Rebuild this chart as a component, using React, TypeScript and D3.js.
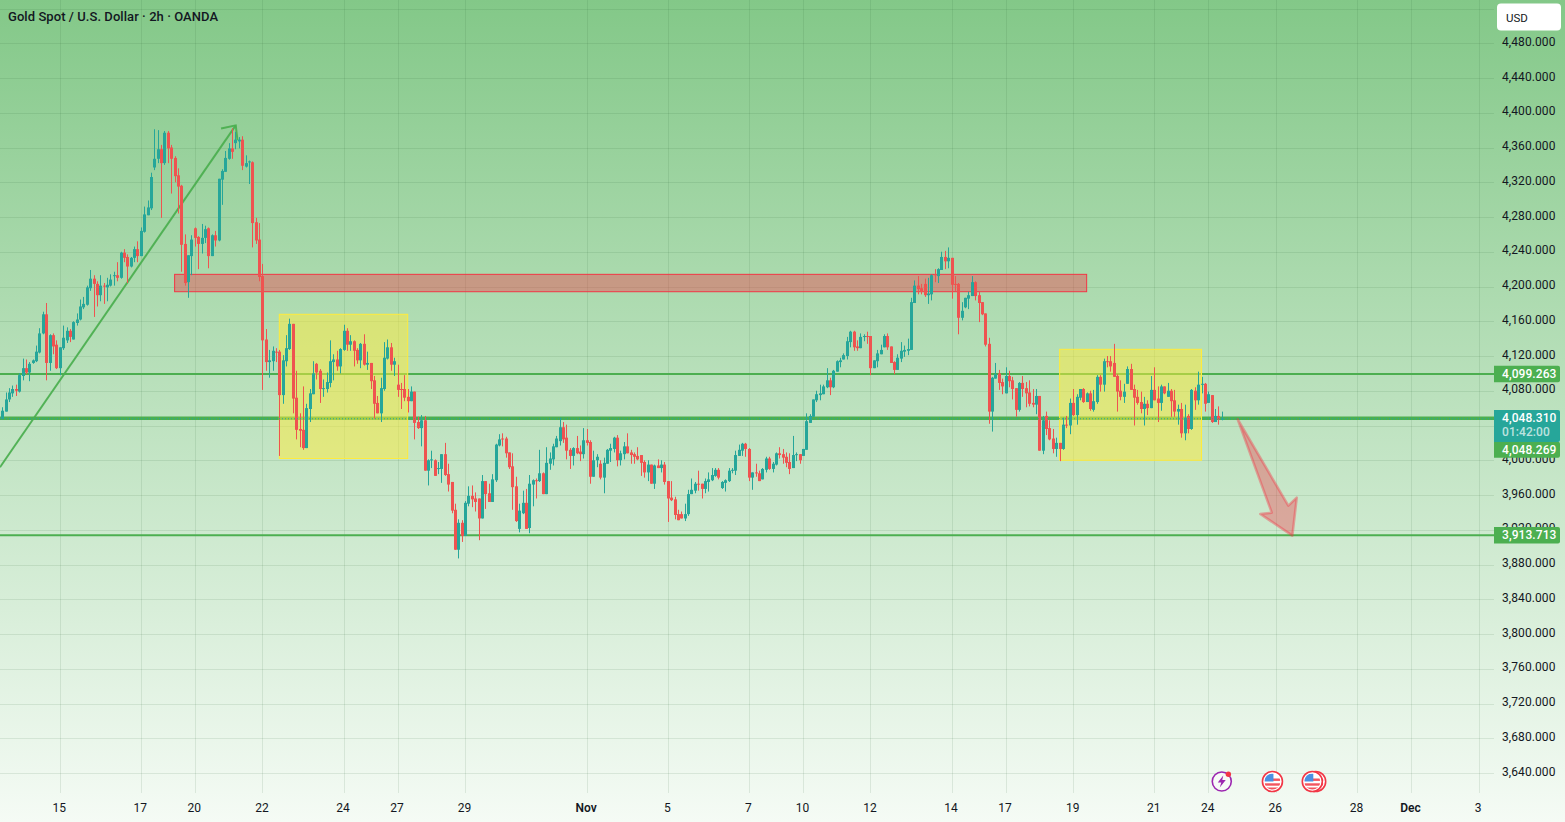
import React, { useEffect, useRef } from 'react';
import * as d3 from 'd3';

type Bar = [number, number, number, number];

// every row is [open, close, high, low]
const oct15to17: Bar[] = [
  [4048,4057,4061,4047],[4056,4070,4078,4056],[4070,4078,4083,4067],[4077,4082,4086,4073],[4082,4080,4087,4074],
  [4079,4098,4100,4078],[4097,4106,4117,4092],[4106,4101,4116,4099],[4101,4111,4113,4091],[4112,4115,4116,4111],
  [4114,4125,4132,4113],[4124,4146,4152,4123],[4146,4168,4171,4145],[4168,4112,4181,4092],[4112,4144,4145,4103],
  [4144,4131,4146,4122],[4133,4106,4138,4105],[4106,4130,4130,4098],[4129,4141,4155,4127],[4138,4149,4153,4135],
  [4149,4142,4151,4136],[4139,4159,4160,4139],[4158,4162,4169,4155],[4162,4177,4185,4161],[4176,4180,4188,4174],
  [4179,4199,4201,4178],[4198,4209,4219,4195],[4209,4203,4213,4165],[4203,4190,4206,4177],[4190,4201,4213,4183],
  [4201,4200,4204,4180],[4199,4202,4210,4183],[4201,4208,4214,4200],[4212,4213,4217,4201],[4213,4210,4228,4206],
  [4210,4239,4240,4209],[4239,4233,4243,4228],[4234,4223,4237,4204],[4223,4233,4234,4222],[4233,4243,4246,4228],
  [4243,4235,4252,4228],[4235,4264,4268,4235],[4263,4283,4292,4262],[4282,4291,4299,4282],[4290,4326,4331,4288],
  [4337,4347,4381,4334],[4347,4358,4380,4342],[4358,4342,4363,4279],[4342,4377,4379,4340],[4377,4359,4379,4342],
  [4360,4347,4363,4307],[4348,4327,4350,4320],[4328,4315,4336,4284],[4316,4248,4317,4217],[4249,4204,4260,4201],
];
const oct20to22: Bar[] = [
  [4205,4236,4236,4187],[4235,4254,4259,4213],[4267,4256,4268,4246],[4257,4249,4258,4220],[4249,4256,4272,4238],
  [4256,4266,4270,4250],[4267,4235,4268,4221],[4235,4259,4260,4235],[4259,4253,4264,4246],[4253,4324,4324,4252],
  [4323,4333,4335,4294],[4332,4348,4356,4332],[4347,4359,4365,4346],[4359,4355,4382,4347],[4365,4369,4378,4358],
  [4367,4369,4372,4359],[4369,4339,4373,4334],[4338,4342,4351,4337],[4343,4344,4345,4318],[4343,4273,4344,4245],
  [4274,4253,4279,4249],[4254,4211,4273,4206],[4212,4138,4226,4081],[4139,4113,4151,4103],[4113,4115,4127,4095],
  [4114,4126,4131,4103],[4125,4124,4129,4113],[4125,4075,4127,4005],
];
const oct22to27: Bar[] = [
  [4075,4115,4121,4065],[4114,4129,4144,4108],[4128,4157,4163,4127],[4157,4071,4157,4054],[4072,4035,4103,4024],
  [4036,4034,4054,4015],[4035,4014,4085,4012],[4014,4060,4065,4014],[4059,4077,4082,4044],[4076,4100,4114,4076],
  [4111,4101,4112,4093],[4103,4082,4105,4066],[4082,4083,4093,4073],[4082,4090,4101,4078],[4089,4114,4138,4084],
  [4113,4116,4122,4092],[4116,4108,4126,4103],[4108,4128,4129,4100],[4127,4149,4156,4126],[4149,4133,4152,4126],
  [4133,4137,4144,4126],[4137,4126,4138,4108],[4127,4115,4129,4111],[4115,4134,4135,4106],[4134,4110,4145,4109],
  [4110,4112,4125,4104],[4112,4091,4112,4082],[4092,4065,4097,4048],[4066,4054,4074,4054],[4054,4083,4095,4044],
  [4082,4118,4136,4080],[4117,4130,4139,4116],[4130,4110,4135,4103],[4110,4114,4118,4097],
];
const oct27toNov3: Bar[] = [
  [4087,4081,4110,4073],[4082,4081,4089,4059],[4082,4072,4098,4068],[4073,4068,4082,4055],[4068,4079,4085,4068],
  [4079,4043,4079,4024],[4044,4037,4050,4036],[4037,4046,4052,4016],[4046,3988,4051,3988],[3988,4000,4001,3971],
  [4000,4001,4011,3991],[4000,3982,4001,3982],[3990,3991,3998,3984],[3990,4007,4007,3974],[4007,3983,4020,3982],
  [3984,3972,3996,3964],[3975,3942,3975,3939],[3943,3897,3950,3897],[3897,3928,3932,3887],[3928,3913,3931,3906],
  [3913,3951,3953,3913],[3950,3959,3970,3947],[3959,3955,3971,3946],[3956,3952,3963,3941],[3956,3933,3956,3908],
  [3933,3976,3983,3933],[3976,3961,3976,3944],[3962,3952,3973,3952],[3952,3978,3984,3952],[3977,4018,4019,3975],
  [4017,4024,4030,4016],[4025,4024,4031,4016],[4025,4008,4027,4003],[4009,3992,4009,3990],[3993,3969,4008,3943],
  [3970,3930,3981,3929],[3921,3942,3950,3917],[3939,3951,3965,3938],[3951,3921,3967,3921],[3922,3973,3983,3916],
  [3972,3977,3978,3947],[3977,3976,3979,3956],[3976,3985,4012,3975],[3985,3961,3986,3961],[3961,3997,4015,3961],
  [3996,4002,4009,3989],[4001,4016,4019,3994],[4015,4025,4028,4015],
];
const nov3to7: Bar[] = [
  [4022,4038,4049,4017],[4038,4024,4044,4020],[4026,4011,4041,4001],[4012,4005,4014,3990],[4005,4014,4015,3994],
  [4014,4008,4028,4007],[4010,4007,4017,3999],[4007,4023,4037,4002],[4023,4020,4036,4017],[4021,3981,4023,3973],
  [3981,4000,4011,3981],[4000,4004,4007,3992],[3996,3980,4000,3978],[3980,3997,4003,3962],[3996,4012,4013,3996],
  [4011,4014,4019,3998],[4013,4026,4027,4009],[4026,4000,4029,3993],[4000,4008,4011,3994],[4007,4016,4021,4001],
  [4016,4008,4031,4008],[4009,4006,4012,3996],[4007,4004,4009,3996],[4005,4001,4015,4000],[4006,3997,4006,3982],
  [3998,3986,4000,3980],[3986,3995,4000,3976],[3995,3973,3995,3973],[3973,3994,3995,3967],[3994,3991,4001,3991],
  [3991,3995,4000,3986],[3995,3975,3998,3972],[3976,3956,3976,3929],[3957,3954,3976,3953],[3955,3937,3958,3932],
  [3938,3931,3943,3931],[3938,3933,3941,3933],[3933,3938,3950,3930],[3938,3961,3966,3936],[3961,3966,3979,3961],
  [3965,3973,3975,3962],[3973,3972,3988,3965],[3973,3967,3973,3956],[3967,3976,3979,3962],[3975,3978,3986,3964],
  [3977,3983,3991,3976],[3982,3989,3991,3981],[3989,3980,3991,3978],[3968,3975,3976,3967],[3974,3977,3978,3964],
  [3976,3988,3991,3975],[3988,3989,3991,3985],[3988,4006,4011,3983],[4005,4012,4018,4005],[4011,4019,4020,4005],
  [4019,4013,4020,4004],[4013,3980,4014,3976],[3980,3986,3986,3966],[3986,3985,3996,3981],[3985,3976,3988,3976],
  [3978,3990,3991,3978],[3989,4002,4004,3986],[4002,3990,4004,3989],[3990,3996,3998,3986],[3995,4008,4009,3994],
  [4008,4006,4015,4002],[4007,4003,4013,3996],[4004,3997,4009,3992],[3998,3990,4008,3984],[3991,4006,4028,3991],
];
const nov7to12: Bar[] = [
  [4006,4007,4009,3999],[4007,4000,4007,3996],[4005,4013,4013,4005],[4012,4045,4054,4012],[4043,4051,4053,4043],
  [4050,4070,4070,4050],[4069,4076,4080,4067],[4075,4077,4087,4069],[4076,4085,4087,4076],[4084,4092,4106,4083],
  [4092,4084,4095,4075],[4084,4103,4104,4083],[4102,4114,4115,4102],[4113,4115,4118,4107],[4116,4121,4123,4116],
  [4120,4137,4142,4116],[4136,4148,4149,4130],[4148,4130,4149,4126],[4131,4129,4138,4126],[4129,4142,4146,4129],
  [4142,4143,4145,4137],[4143,4142,4148,4134],[4143,4106,4143,4098],[4106,4115,4115,4106],[4114,4123,4127,4107],
  [4122,4127,4133,4122],[4130,4143,4145,4130],[4143,4130,4146,4127],[4131,4112,4131,4112],[4113,4104,4114,4099],
  [4104,4118,4122,4104],[4117,4126,4136,4113],[4125,4127,4132,4119],[4126,4128,4140,4121],
];
const nov12to17: Bar[] = [
  [4127,4182,4187,4127],[4181,4201,4207,4181],[4201,4197,4212,4191],[4198,4194,4203,4191],[4203,4190,4209,4188],
  [4190,4192,4210,4180],[4191,4213,4214,4184],[4214,4213,4220,4205],[4212,4220,4221,4204],[4219,4234,4240,4219],
  [4234,4229,4241,4220],[4229,4233,4245,4221],[4233,4202,4233,4186],[4203,4202,4212,4195],[4203,4164,4204,4145],
  [4164,4172,4182,4161],[4176,4187,4187,4175],[4186,4190,4194,4174],[4189,4205,4212,4189],[4205,4189,4206,4184],
  [4190,4181,4194,4159],[4182,4168,4182,4167],[4169,4133,4169,4131],[4134,4056,4141,4042],[4056,4095,4096,4033],
  [4094,4099,4112,4094],[4100,4089,4104,4081],[4090,4085,4094,4076],[4077,4097,4107,4077],[4097,4091,4103,4084],
  [4092,4082,4096,4070],[4083,4058,4083,4050],[4058,4089,4090,4056],[4089,4082,4097,4073],[4083,4077,4090,4061],
  [4078,4065,4092,4062],[4066,4064,4082,4061],[4064,4074,4082,4053],[4074,4011,4074,4011],[4011,4046,4051,4007],
];
const nov17to24: Bar[] = [
  [4051,4036,4056,4029],[4037,4024,4046,4023],[4025,4013,4036,4008],[4013,4020,4026,4004],[4020,4013,4020,3999],
  [4013,4041,4049,4012],[4041,4040,4051,4037],[4040,4066,4071,4030],[4066,4052,4082,4051],[4052,4073,4076,4041],
  [4072,4082,4082,4069],[4082,4067,4083,4066],[4067,4077,4078,4067],[4077,4059,4080,4057],[4058,4068,4081,4056],
  [4067,4096,4098,4065],[4096,4087,4098,4079],[4087,4114,4117,4079],[4114,4113,4120,4107],[4114,4108,4120,4102],
  [4112,4096,4134,4096],[4097,4079,4099,4056],[4080,4073,4092,4069],[4073,4079,4088,4066],[4088,4105,4108,4088],
  [4105,4081,4111,4081],[4082,4072,4087,4040],[4073,4066,4081,4064],[4067,4059,4079,4054],[4059,4065,4073,4040],
  [4065,4060,4069,4052],[4060,4081,4097,4060],[4081,4069,4107,4069],[4071,4066,4085,4044],[4066,4085,4087,4057],
  [4085,4077,4085,4076],[4073,4080,4089,4073],[4080,4068,4082,4050],[4069,4056,4081,4050],[4056,4059,4064,4041],
  [4059,4031,4066,4026],[4031,4049,4064,4023],[4051,4036,4053,4031],[4036,4081,4082,4035],[4080,4069,4084,4058],
  [4069,4087,4102,4064],[4087,4088,4096,4077],[4088,4065,4089,4056],[4066,4076,4079,4066],[4075,4044,4075,4043],
  [4044,4051,4059,4044],[4051,4047,4062,4041],[4047,4048,4056,4046],
];
const bars: Bar[] = [...oct15to17, ...oct20to22, ...oct22to27, ...oct27toNov3, ...nov3to7, ...nov7to12, ...nov12to17, ...nov17to24];

const timeTickBars = [17, 41, 57, 77, 101, 117, 137, 173, 197, 221, 237, 257, 281, 297, 317, 341, 357, 377, 401, 417, 437];
const timeTickLabels = ['15', '17', '20', '22', '24', '27', '29', 'Nov', '5', '7', '10', '12', '14', '17', '19', '21', '24', '26', '28', 'Dec', '3'];
const priceTicks = [4480, 4440, 4400, 4360, 4320, 4280, 4240, 4200, 4160, 4120, 4080, 4040, 4000, 3960, 3920, 3880, 3840, 3800, 3760, 3720, 3680, 3640];
const hiddenGridPrice = 4520; // its label sits under the currency button

const levelPrices = [4099.263, 4048.269, 3913.713];
const levelWidths = [2, 3.4, 2];
const lastPrice = 4048.31;
const countdown = '01:42:00';

// startBar, endBar, top price, bottom price
const redZone = [51, 321, 4214, 4194];
const yellowZones = [[82, 120, 4168, 4002], [313, 355, 4127.7, 4000]];
const trendFrom = [-0.7, 3992];
const trendTo = [69.1, 4385.5];
const downArrow = [[365.7, 4047.2], [380.7, 3947.7], [383.2, 3957], [381.9, 3913.2], [372.4, 3938.2], [375.8, 3939.7]];
const flagEventBars = [376, 387.8, 388.8];
const newsEventBar = 361;

const green = '#4caf50';
const up = '#26a69a';
const down = '#ef5350';
const textColor = '#131722';
const font = 'Roboto, sans-serif';

const App = () => {
  const svgRef = useRef<SVGSVGElement>(null);

  useEffect(() => {
    document.body.style.margin = '0';
    const svg = d3.select(svgRef.current);
    svg.selectAll('*').remove();

    const width = 1565;
    const height = 822;
    const paneRight = 1494;
    const paneBottom = 793;

    const x = d3.scaleLinear().domain([0, 437]).range([2.33, 1478.5]);
    const y = d3.scaleLinear().domain([4120, 3640]).range([356, 773]);

    const defs = svg.append('defs');
    const grad = defs.append('linearGradient').attr('id', 'bg').attr('x1', 0).attr('x2', 0).attr('y1', 0).attr('y2', 1);
    grad.append('stop').attr('offset', 0).attr('stop-color', '#83c888');
    grad.append('stop').attr('offset', 0.5).attr('stop-color', '#bde2bf');
    grad.append('stop').attr('offset', 1).attr('stop-color', '#f5fbf5');
    svg.append('rect').attr('width', width).attr('height', height).attr('fill', 'url(#bg)');

    // grid + axes
    const gridColor = 'rgba(40,90,50,0.11)';
    const xAxis = svg.append('g').attr('transform', `translate(-1, ${paneBottom + 2})`)
      .call(d3.axisBottom(x).tickValues(timeTickBars).tickSize(0).tickPadding(8)
        .tickFormat((_, i) => timeTickLabels[i]));
    xAxis.select('.domain').remove();
    xAxis.selectAll('text')
      .attr('font-family', font).attr('font-size', 12).attr('fill', textColor)
      .attr('font-weight', (_, i) => (timeTickLabels[i] === 'Nov' || timeTickLabels[i] === 'Dec' ? 600 : 400));
    svg.append('g').selectAll('line').data(timeTickBars).enter().append('line')
      .attr('x1', d => Math.round(x(d)) + 0.5).attr('x2', d => Math.round(x(d)) + 0.5)
      .attr('y1', 0).attr('y2', paneBottom)
      .attr('stroke', gridColor);

    const yAxis = svg.append('g').attr('transform', `translate(${paneRight}, -1)`)
      .call(d3.axisRight(y).tickValues(priceTicks).tickSize(0).tickPadding(8).tickFormat(d3.format(',.3f')));
    yAxis.select('.domain').remove();
    yAxis.selectAll('text')
      .attr('font-family', font).attr('font-size', 12).attr('fill', textColor).attr('dy', '0.25em')
      .attr('letter-spacing', 0.08);
    svg.append('g').selectAll('line').data([hiddenGridPrice, ...priceTicks]).enter().append('line')
      .attr('x1', 0).attr('x2', paneRight)
      .attr('y1', d => Math.round(y(d)) + 0.5).attr('y2', d => Math.round(y(d)) + 0.5)
      .attr('stroke', gridColor);

    // horizontal levels
    svg.append('g').selectAll('line').data(levelPrices).enter().append('line')
      .attr('x1', 0).attr('x2', paneRight)
      .attr('y1', d => y(d)).attr('y2', d => y(d))
      .attr('stroke', green).attr('stroke-width', (_, i) => levelWidths[i]);

    // zones
    svg.append('rect')
      .attr('x', x(redZone[0])).attr('width', x(redZone[1]) - x(redZone[0]))
      .attr('y', y(redZone[2])).attr('height', y(redZone[3]) - y(redZone[2]))
      .attr('fill', 'rgba(242,54,69,0.4)').attr('stroke', '#f23645').attr('stroke-width', 1);
    svg.append('g').selectAll('rect').data(yellowZones).enter().append('rect')
      .attr('x', d => x(d[0])).attr('width', d => x(d[1]) - x(d[0]))
      .attr('y', d => y(d[2])).attr('height', d => y(d[3]) - y(d[2]))
      .attr('fill', 'rgba(255,235,59,0.5)').attr('stroke', '#ffeb3b').attr('stroke-width', 1);

    // trend line with open head
    const tipX = x(trendTo[0]);
    const tipY = y(trendTo[1]);
    const back = Math.atan2(y(trendFrom[1]) - tipY, x(trendFrom[0]) - tipX);
    const headLen = 15;
    const head = [back + 0.75, back - 0.72].map(a => [tipX + headLen * Math.cos(a), tipY + headLen * Math.sin(a)]);
    const trend = svg.append('g').attr('fill', 'none').attr('stroke', green).attr('stroke-width', 2).attr('stroke-opacity', 0.95);
    trend.append('line').attr('x1', x(trendFrom[0])).attr('y1', y(trendFrom[1])).attr('x2', tipX).attr('y2', tipY);
    trend.append('path').attr('d', d3.line()([head[0] as [number, number], [tipX, tipY], head[1] as [number, number]]));

    // candles
    const candles = svg.append('g').selectAll('g').data(bars).enter().append('g')
      .attr('fill', d => (d[1] >= d[0] ? up : down));
    candles.append('rect')
      .attr('x', (_, i) => Math.round(x(i)))
      .attr('width', 1)
      .attr('y', d => y(d[2]))
      .attr('height', d => y(d[3]) - y(d[2]));
    candles.append('rect')
      .attr('x', (_, i) => Math.round(x(i)) - 1)
      .attr('width', 3)
      .attr('y', d => y(Math.max(d[0], d[1])))
      .attr('height', d => Math.max(1, Math.abs(y(d[0]) - y(d[1]))));

    // last price dotted line
    svg.append('line')
      .attr('x1', 0).attr('x2', paneRight)
      .attr('y1', y(lastPrice) + 0.5).attr('y2', y(lastPrice) + 0.5)
      .attr('stroke', up).attr('stroke-width', 1).attr('stroke-dasharray', '1 2');

    // red down arrow
    svg.append('path')
      .attr('d', d3.line().x(d => x(d[0])).y(d => y(d[1])).curve(d3.curveLinearClosed)(downArrow as [number, number][]))
      .attr('fill', 'rgba(242,54,69,0.36)')
      .attr('stroke', 'rgba(242,54,69,0.4)').attr('stroke-width', 2.5).attr('stroke-linejoin', 'round');

    // price tags
    const tagX = paneRight;
    const tagW = 66;
    const tag = (top: number, h: number, fill: string) =>
      svg.append('path')
        .attr('d', `M${tagX},${top}h${tagW - 2}q2,0 2,2v${h - 4}q0,2 -2,2h${-(tagW - 2)}z`)
        .attr('fill', fill);
    const tagText = (label: string, cy: number, fill: string, weight: number) =>
      svg.append('text').attr('x', 1502).attr('y', cy + 4.2)
        .attr('font-family', font).attr('font-size', 12).attr('font-weight', weight).attr('fill', fill)
        .attr('letter-spacing', 0.08).text(label);
    const fmt = d3.format(',.3f');

    tag(y(levelPrices[0]) - 8.3, 16.6, green);
    tagText(fmt(levelPrices[0]), y(levelPrices[0]) - 0.5, '#ffffff', 500);
    tag(y(levelPrices[2]) - 8.3, 16.6, green);
    tagText(fmt(levelPrices[2]), y(levelPrices[2]) - 0.5, '#ffffff', 500);
    tag(441.7, 16, green);
    tagText(fmt(levelPrices[1]), 449.5, '#ffffff', 500);
    tag(y(lastPrice) - 8.3, 32, up);
    tagText(fmt(lastPrice), y(lastPrice) - 0.5, '#ffffff', 500);
    tagText(countdown, y(lastPrice) + 13.5, 'rgba(255,255,255,0.7)', 500);

    // currency button
    svg.append('rect').attr('x', 1497).attr('y', 3.5).attr('width', 64).attr('height', 27).attr('rx', 4).attr('fill', '#ffffff');
    svg.append('text').attr('x', 1506).attr('y', 21.5)
      .attr('font-family', font).attr('font-size', 11.5).attr('fill', textColor).text('USD');

    // title
    svg.append('text').attr('x', 8).attr('y', 21)
      .attr('font-family', font).attr('font-size', 13).attr('font-weight', 500).attr('fill', textColor)
      .attr('letter-spacing', 0.06)
      .text('Gold Spot / U.S. Dollar · 2h · OANDA');

    // event icons
    const iconY = 781.5;
    const news = svg.append('g').attr('transform', `translate(${x(newsEventBar)}, ${iconY})`);
    news.append('circle').attr('r', 9.5).attr('fill', '#f7fbf7').attr('stroke', '#9c27b0').attr('stroke-width', 1.6);
    news.append('path').attr('d', 'M1.5,-6 L-4,1 L-0.5,1 L-2,6 L4,-1.5 L0.5,-1.5 Z').attr('fill', '#9c27b0');
    news.append('circle').attr('cx', 6.6).attr('cy', -7.2).attr('r', 2.7).attr('fill', '#f23645');

    defs.append('clipPath').attr('id', 'flagClip').append('circle').attr('r', 8);
    const flags = svg.append('g').selectAll('g').data([flagEventBars[2], flagEventBars[0], flagEventBars[1]]).enter().append('g')
      .attr('transform', d => `translate(${x(d)}, ${iconY})`);
    flags.append('circle').attr('r', 10).attr('fill', '#ffffff').attr('stroke', '#f23645').attr('stroke-width', 1.6);
    const flagBody = flags.append('g').attr('clip-path', 'url(#flagClip)');
    flagBody.append('rect').attr('x', -8).attr('y', -8).attr('width', 16).attr('height', 16).attr('fill', '#ffffff');
    flagBody.append('rect').attr('x', -8).attr('y', -3).attr('width', 16).attr('height', 2.4).attr('fill', '#f2555f');
    flagBody.append('rect').attr('x', -8).attr('y', 1.8).attr('width', 16).attr('height', 2.4).attr('fill', '#f2555f');
    flagBody.append('rect').attr('x', -8).attr('y', 6).attr('width', 16).attr('height', 3).attr('fill', '#f2555f');
    flagBody.append('rect').attr('x', -8).attr('y', -8).attr('width', 9).attr('height', 8).attr('fill', '#4a90e2');
  }, []);

  return (
    <svg ref={svgRef} width={1565} height={822} style={{ position: 'absolute', left: 0, top: 0, display: 'block' }} />
  );
};

export default App;
